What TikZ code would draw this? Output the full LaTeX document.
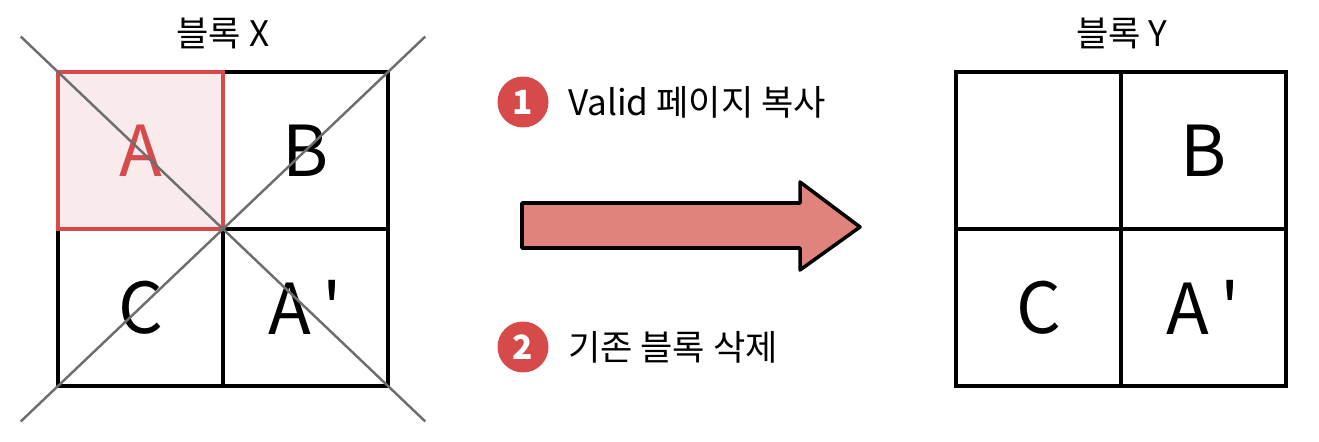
\documentclass[tikz,border=0pt]{standalone}
\usepackage{fontspec}
\setmainfont{Noto Sans CJK KR}
\usetikzlibrary{calc,positioning}
\definecolor{mark}{HTML}{D64A4A}
\definecolor{pale}{HTML}{F9EAEC}
\definecolor{band}{HTML}{E0837D}
\definecolor{cross}{HTML}{6E6E6E}

\begin{document}
\begin{tikzpicture}[x=0.02cm, y=-0.02cm,
    cell/.style={draw, line width=2pt, minimum width=3.3cm, minimum height=3.14cm,
      inner sep=0pt, outer sep=0pt, font=\fontsize{40}{40}\selectfont},
    title/.style={font=\fontsize{20}{20}\selectfont},
    badge/.style={circle, fill=mark, text=white, minimum size=1.02cm, inner sep=0pt,
      font=\fontsize{19}{19}\selectfont\bfseries},
    lbl/.style={font=\fontsize{20}{20}\selectfont}]
  \useasboundingbox (0,0) rectangle (1319,442);

  \node[title] (tx) at (223,33) {블록 X};
  \node[cell] (xb) at (305.5,150.5) {B};
  \node[cell] (xc) at (140.5,307.5) {C};
  \node[cell] (xd) at (305.5,307.5) {A\,\textquotesingle};
  \node[cell, draw=mark, fill=pale, text=mark] (xa) at (140.5,150.5) {A};
  \draw[cross, line width=1.4pt] ($(xa.north west)!-0.113!(xd.south east)$) -- ($(xd.south east)!-0.113!(xa.north west)$);
  \draw[cross, line width=1.4pt] ($(xb.north east)!-0.113!(xc.south west)$) -- ($(xc.south west)!-0.113!(xb.north east)$);

  \node[badge] (n1) at (523,102) {1};
  \node[lbl, right=0.26cm of n1] (t1) {Valid 페이지 복사};
  \node[badge] (n2) at (523,347) {2};
  \node[lbl, right=0.26cm of n2] (t2) {기존 블록 삭제};
  \draw[line width=2pt, fill=band, line join=round]
    (522,203) -- (800,203) -- (800,182) -- (860,227) -- (800,270) -- (800,248) -- (522,248) -- cycle;

  \node[title] (ty) at (1122,33) {블록 Y};
  \node[cell] (ya) at (1038.5,150.5) {};
  \node[cell] (yb) at (1203.5,150.5) {B};
  \node[cell] (yc) at (1038.5,307.5) {C};
  \node[cell] (yd) at (1203.5,307.5) {A\,\textquotesingle};
\end{tikzpicture}
\end{document}
